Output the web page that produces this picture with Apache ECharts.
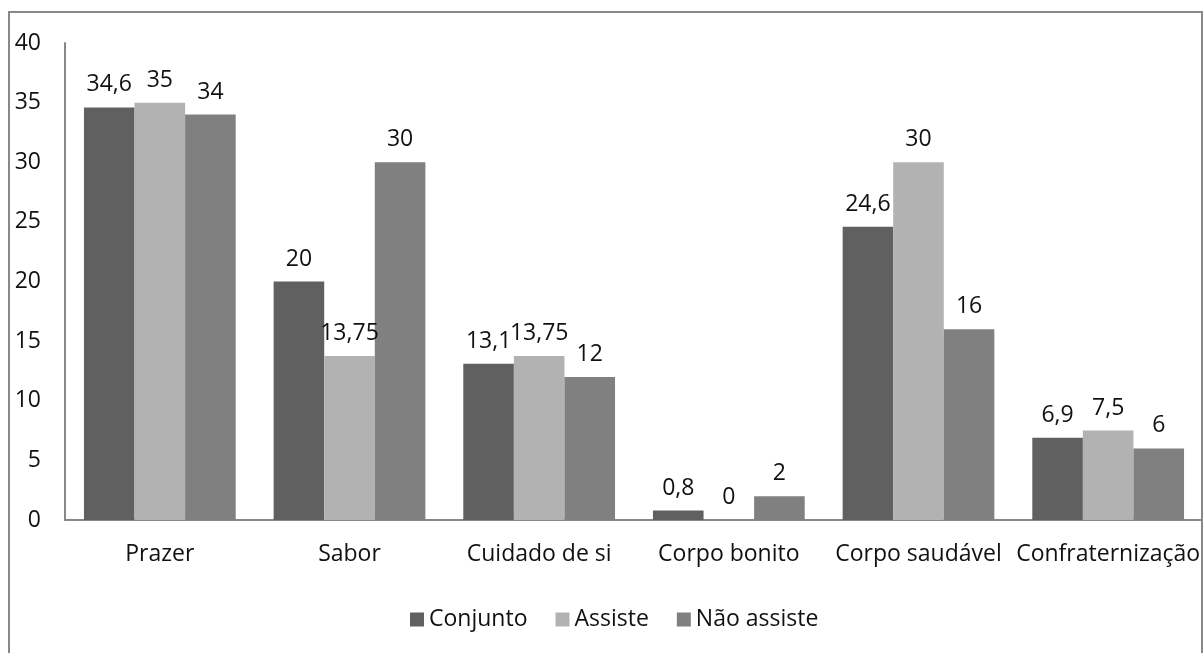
<!DOCTYPE html>
<html><head><meta charset="utf-8">
<script src="https://cdn.jsdelivr.net/npm/echarts@6/dist/echarts.min.js"></script>
<style>html,body{margin:0;padding:0;background:#fff}#c{width:1203px;height:653px}</style>
</head><body><div id="c"></div>
<script>
const categories = ['Prazer','Sabor','Cuidado de si','Corpo bonito','Corpo saudável','Confraternização'];
const seriesNames = ['Conjunto','Assiste','Não assiste'];
const conjunto = [34.6, 20, 13.1, 0.8, 24.6, 6.9];
const assiste = [35, 13.75, 13.75, 0, 30, 7.5];
const naoAssiste = [34, 30, 12, 2, 16, 6];
const yTicks = [0,5,10,15,20,25,30,35,40];

const colors = ['#606060','#b2b2b2','#808080'];
const font = 'Open Sans';
const fs = 23;
const chart = echarts.init(document.getElementById('c'), null, {renderer:'canvas'});
const mk = (name, data, color) => ({
  name, type:'bar', data, barGap:'0%', barCategoryGap:'20%',
  itemStyle:{color},
  label:{show:true, position:'top', distance:11, color:'#111', fontFamily:font, fontSize:fs,
    formatter:p => String(p.value).replace('.', ',')},
  animation:false
});
chart.setOption({
  animation:false,
  textStyle:{fontFamily:font},
  graphic:[{type:'rect', shape:{x:9, y:12, width:1193, height:700},
    style:{fill:'none', stroke:'#888888', lineWidth:2}, silent:true, z:-1}],
  grid:{left:65, right:-2, top:43, bottom:133, containLabel:false},
  legend:{data:seriesNames, left:405, top:603, itemWidth:14, itemHeight:14, itemGap:28,
    icon:'rect', textStyle:{fontFamily:font, fontSize:fs, color:'#111'}},
  xAxis:{type:'category', data:categories,
    axisLine:{lineStyle:{color:'#888888', width:2}}, axisTick:{show:false},
    axisLabel:{interval:0, margin:23, fontFamily:font, fontSize:fs, color:'#111'}},
  yAxis:{type:'value', min:yTicks[0], max:yTicks[yTicks.length-1], interval:5,
    splitLine:{show:false}, axisTick:{show:false},
    axisLine:{show:true, lineStyle:{color:'#888888', width:2}},
    axisLabel:{margin:24, fontFamily:font, fontSize:fs, color:'#111'}},
  series:[mk(seriesNames[0], conjunto, colors[0]), mk(seriesNames[1], assiste, colors[1]), mk(seriesNames[2], naoAssiste, colors[2])]
});
</script></body></html>
